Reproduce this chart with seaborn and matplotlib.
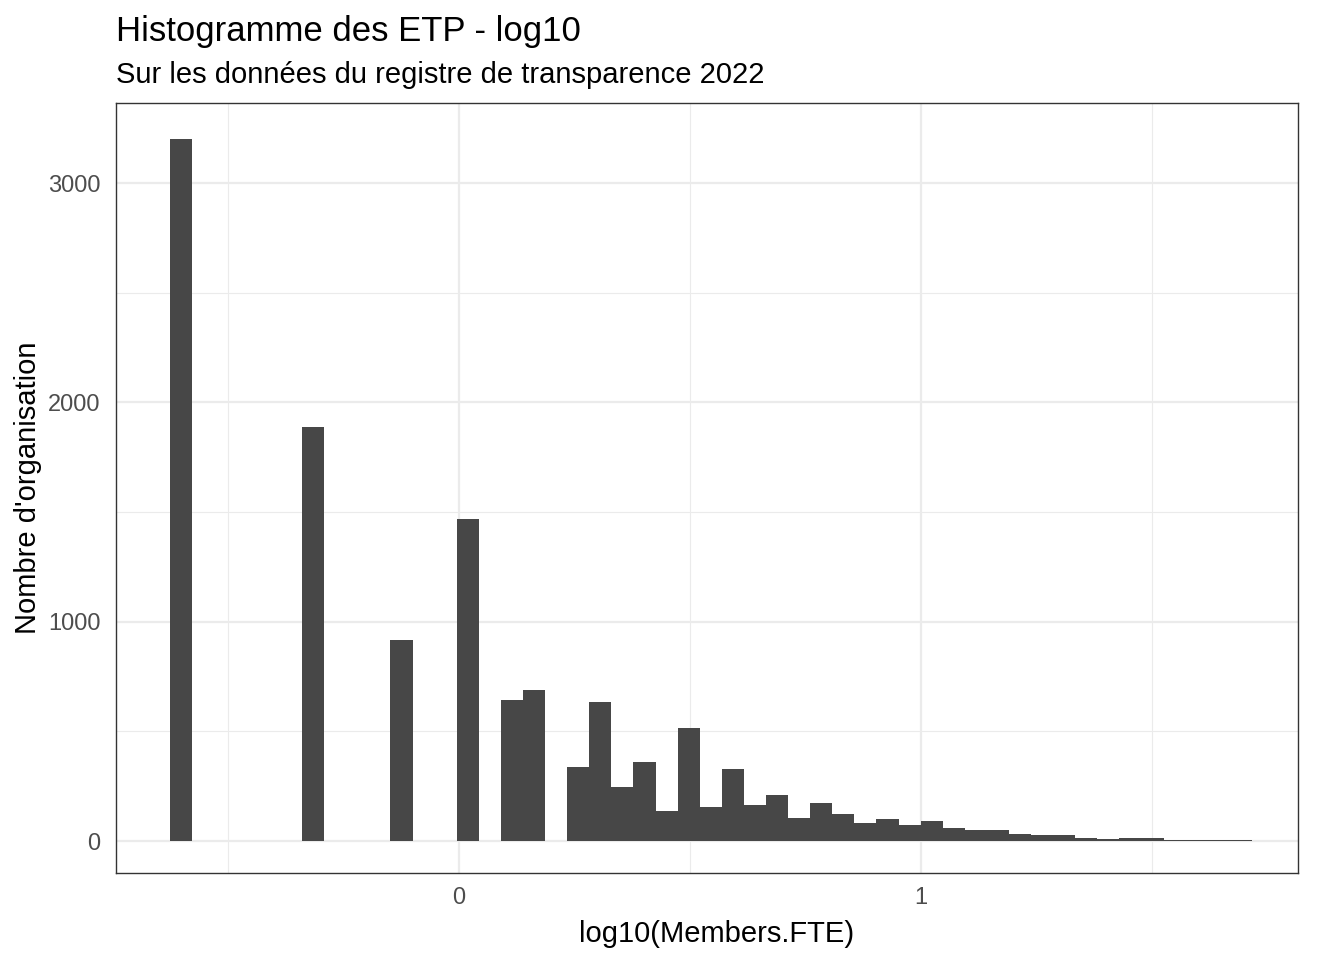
import matplotlib
matplotlib.use("Agg")
import matplotlib.pyplot as plt
import seaborn as sns
import pandas as pd

# bin centres of log10(Members.FTE) and organisation counts
bin_centers = [-0.602, -0.315, -0.124, 0.019, 0.115, 0.163, 0.258, 0.306,
               0.354, 0.402, 0.450, 0.497, 0.545, 0.593, 0.641, 0.689,
               0.736, 0.784, 0.832, 0.880, 0.928, 0.975, 1.023, 1.071,
               1.119, 1.167, 1.214, 1.262, 1.310, 1.358, 1.406, 1.453,
               1.501, 1.549, 1.597, 1.645, 1.692, 1.740]
counts = [3200, 1888, 916, 1468, 643, 688, 337, 634,
          246, 360, 137, 515, 155, 328, 164, 210,
          105, 173, 123, 82, 100, 73, 91, 59,
          50, 50, 32, 27, 27, 14, 9, 14,
          14, 4, 4, 4, 4, 1]
n_bins = 50
bin_range = (-0.626, 1.764)

title = "Histogramme des ETP - log10"
subtitle = "Sur les données du registre de transparence 2022"
x_label = "log10(Members.FTE)"
y_label = "Nombre d'organisation"

df = pd.DataFrame({"log_fte": bin_centers, "n": counts})

sns.set_style("white")
plt.rcParams["font.family"] = ["Liberation Sans", "DejaVu Sans"]
plt.rcParams["text.color"] = "black"
plt.rcParams["axes.labelcolor"] = "black"

fig = plt.figure(figsize=(13.44, 9.6), dpi=100)
ax = fig.add_axes([0.0863, 0.0906, 0.8795, 0.8021])

sns.histplot(data=df, x="log_fte", weights="n", bins=n_bins, binrange=bin_range,
             color="#474747", alpha=1, linewidth=0, edgecolor="none", ax=ax, zorder=3)

ax.set_xlim(-0.742, 1.816)
ax.set_ylim(-146, 3365)
ax.set_xticks([0, 1])
ax.set_xticks([-0.5, 0.5, 1.5], minor=True)
ax.set_yticks([0, 1000, 2000, 3000])
ax.set_yticks([500, 1500, 2500], minor=True)
ax.set_xticklabels(["0", "1"])
ax.set_yticklabels(["0", "1000", "2000", "3000"])

ax.grid(which="major", color="#EBEBEB", linewidth=1.6, zorder=0)
ax.grid(which="minor", color="#EBEBEB", linewidth=0.8, zorder=0)
ax.set_axisbelow(True)
ax.tick_params(which="major", length=4, width=1.1, color="#333333",
               labelsize=17, labelcolor="#4D4D4D")
ax.tick_params(axis="x", which="major", pad=6)
ax.tick_params(axis="y", which="major", pad=7)
ax.tick_params(which="minor", length=0)
for s in ax.spines.values():
    s.set_color("#333333")
    s.set_linewidth(1.0)

ax.set_xlabel(x_label, fontsize=21)
ax.set_ylabel(y_label, fontsize=21)
ax.xaxis.set_label_coords(0.508, -0.061)
ax.yaxis.set_label_coords(-0.063, 0.5)

fig.text(0.0863, 1 - 41 / 960, title, fontsize=25, va="baseline", ha="left")
fig.text(0.0863, 1 - 83 / 960, subtitle, fontsize=21, va="baseline", ha="left")

fig.savefig("out.png", dpi=100)
